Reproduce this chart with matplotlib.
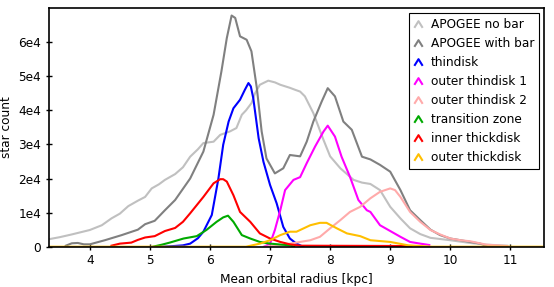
import numpy as np
import matplotlib
matplotlib.use("Agg")
import matplotlib.pyplot as plt
from matplotlib.path import Path
from matplotlib.lines import Line2D

plt.rcParams['font.family'] = 'DejaVu Sans'
plt.rcParams['font.size'] = 8.7

# APOGEE no bar
nobar_x = [3.32, 3.5, 3.7, 4.0, 4.2, 4.36, 4.5, 4.64, 4.8, 4.92, 5.03, 5.15, 5.25, 5.42, 5.55,
           5.67, 5.8, 5.89, 6.06, 6.17, 6.33, 6.44, 6.53, 6.6, 6.69, 6.75, 6.83, 6.97, 7.08,
           7.17, 7.33, 7.42, 7.5, 7.58, 7.72, 7.89, 8.0, 8.17, 8.39, 8.53, 8.67, 8.83, 9.0,
           9.17, 9.33, 9.5, 9.67, 10.0, 10.33, 10.6, 10.95]
nobar_y = [2200, 2800, 3600, 4900, 6300, 8300, 9700, 11900, 13500, 14600, 17100, 18300, 19600, 21300, 23300,
           26400, 28600, 30400, 30800, 32800, 33800, 34800, 38700, 40000, 42100, 45000, 47500, 48700, 48200,
           47500, 46600, 46000, 45500, 44100, 39200, 31300, 26500, 23000, 19600, 18800, 18400, 16600, 11700,
           8300, 5400, 3700, 2600, 1900, 1100, 600, 300]

# APOGEE with bar
bar_x = [3.6, 3.7, 3.8, 3.9, 4.0, 4.25, 4.53, 4.8, 4.92, 5.08, 5.25, 5.42, 5.67, 5.89, 6.06,
         6.19, 6.28, 6.36, 6.42, 6.5, 6.61, 6.69, 6.78, 6.86, 6.94, 7.08, 7.22, 7.33, 7.5,
         7.61, 7.72, 7.86, 7.96, 8.08, 8.22, 8.36, 8.53, 8.67, 8.83, 9.0, 9.17, 9.33, 9.5,
         9.67, 9.83, 10.0, 10.17, 10.33, 10.5, 10.6]
bar_y = [300, 1000, 1100, 700, 700, 1900, 3400, 5000, 6600, 7600, 10700, 13700, 20000, 27900, 38700,
         51400, 61200, 67800, 67100, 61700, 60700, 57300, 46500, 33800, 25900, 21500, 23000, 26900, 26500,
         30800, 36700, 42600, 46500, 44100, 36700, 34300, 26400, 25600, 24000, 22000, 16600, 10700, 7800,
         5000, 3400, 2400, 1900, 1400, 900, 200]

# thindisk
thin_x = [5.2, 5.4, 5.55, 5.67, 5.8, 5.89, 6.03, 6.14, 6.22, 6.31, 6.39, 6.5, 6.58, 6.64, 6.68,
          6.72, 6.81, 6.89, 7.0, 7.11, 7.22, 7.33, 7.44, 7.55]
thin_y = [0, 200, 400, 900, 2500, 4400, 9300, 20000, 29900, 36700, 40600, 43100, 46000, 48000, 47000,
          43600, 31800, 24900, 18100, 12700, 5800, 2400, 900, 0]

# outer thindisk 1
out1_x = [6.9, 7.0, 7.08, 7.17, 7.25, 7.39, 7.5, 7.61, 7.75, 7.89, 7.96, 8.08, 8.19, 8.33, 8.47,
          8.61, 8.67, 8.83, 9.0, 9.17, 9.33, 9.5, 9.65]
out1_y = [0, 900, 4900, 10700, 16600, 19600, 20400, 24500, 29400, 33800, 35500, 32300, 26400, 20500, 13700,
          10700, 10200, 6300, 4600, 2900, 1400, 900, 500]

# outer thindisk 2
out2_x = [6.9, 7.17, 7.5, 7.67, 7.83, 8.0, 8.17, 8.33, 8.5, 8.67, 8.83, 9.0, 9.08, 9.17, 9.33,
          9.5, 9.67, 9.83, 10.0, 10.17, 10.33, 10.6, 10.95]
out2_y = [0, 400, 1400, 1900, 2900, 5400, 7800, 10200, 11700, 14200, 16100, 17100, 16600, 14600, 10200,
          7300, 4900, 3600, 2400, 1900, 1600, 600, 200]

# transition zone
trans_x = [5.05, 5.2, 5.33, 5.56, 5.78, 5.94, 6.11, 6.22, 6.3, 6.39, 6.53, 6.67, 6.83, 7.0, 7.33, 7.4]
trans_y = [0, 600, 1200, 2400, 3100, 4900, 7300, 8600, 9100, 7300, 3400, 2400, 1400, 900, 400, 0]

# inner thickdisk
inner_x = [4.36, 4.5, 4.69, 4.8, 4.92, 5.08, 5.25, 5.42, 5.55, 5.67, 5.89, 6.06, 6.17, 6.22, 6.28,
           6.39, 6.5, 6.67, 6.83, 7.0, 7.17, 7.33, 7.5, 9.3, 9.35]
inner_y = [300, 900, 1200, 2000, 2700, 3100, 4600, 5500, 7300, 9800, 14600, 18600, 19800, 19800, 19100,
           15100, 10200, 7300, 3900, 2400, 1400, 700, 300, 200, 0]

# outer thickdisk
othick_x = [3.3, 6.6, 6.83, 7.0, 7.17, 7.33, 7.44, 7.67, 7.83, 7.94, 8.11, 8.28, 8.5, 8.67, 9.0,
            9.3, 9.6, 9.7, 11.6]
othick_y = [0, 0, 900, 1900, 3400, 4400, 4400, 6300, 7000, 7000, 5400, 3900, 3100, 1900, 1400,
            400, 100, 0, 0]

series = [
    (nobar_x, nobar_y, '#c0c0c0', 'APOGEE no bar'),
    (bar_x, bar_y, '#808080', 'APOGEE with bar'),
    (thin_x, thin_y, '#0000ff', 'thindisk'),
    (out1_x, out1_y, '#ff00ff', 'outer thindisk 1'),
    (out2_x, out2_y, '#ffaaaa', 'outer thindisk 2'),
    (trans_x, trans_y, '#00aa00', 'transition zone'),
    (inner_x, inner_y, '#ff0000', 'inner thickdisk'),
    (othick_x, othick_y, '#ffbf00', 'outer thickdisk'),
]

fig = plt.figure(figsize=(5.54, 2.87), dpi=100)
ax = fig.add_axes([0.0884, 0.1404, 0.8936, 0.8316])

caret = Path([(-1, -0.8), (0, 0.8), (1, -0.8)], [Path.MOVETO, Path.LINETO, Path.LINETO])
handles = []
for x, y, c, lab in series:
    ax.plot(x, y, color=c, lw=1.5)
    handles.append(Line2D([], [], ls='none', marker=caret, ms=6, mew=1.5,
                          mec=c, mfc='none', label=lab))

ax.set_xlim(3.32, 11.56)
ax.set_ylim(0, 70000)
ax.set_xticks([4, 5, 6, 7, 8, 9, 10, 11])
ax.set_yticks([0, 10000, 20000, 30000, 40000, 50000, 60000])
ax.set_yticklabels(['0', '1e4', '2e4', '3e4', '4e4', '5e4', '6e4'])
ax.tick_params(direction='inout', length=4, width=1)
for s in ax.spines.values():
    s.set_linewidth(1.2)

ax.set_xlabel('Mean orbital radius [kpc]')
ax.set_ylabel('star count')

leg = ax.legend(handles=handles, loc='upper right', bbox_to_anchor=(0.99, 0.979),
                borderaxespad=0, fancybox=False, framealpha=1, edgecolor='black',
                handlelength=0.6, handletextpad=0.8, borderpad=0.4, labelspacing=0.5)
leg.get_frame().set_linewidth(0.8)

plt.savefig('out.png', dpi=100)
